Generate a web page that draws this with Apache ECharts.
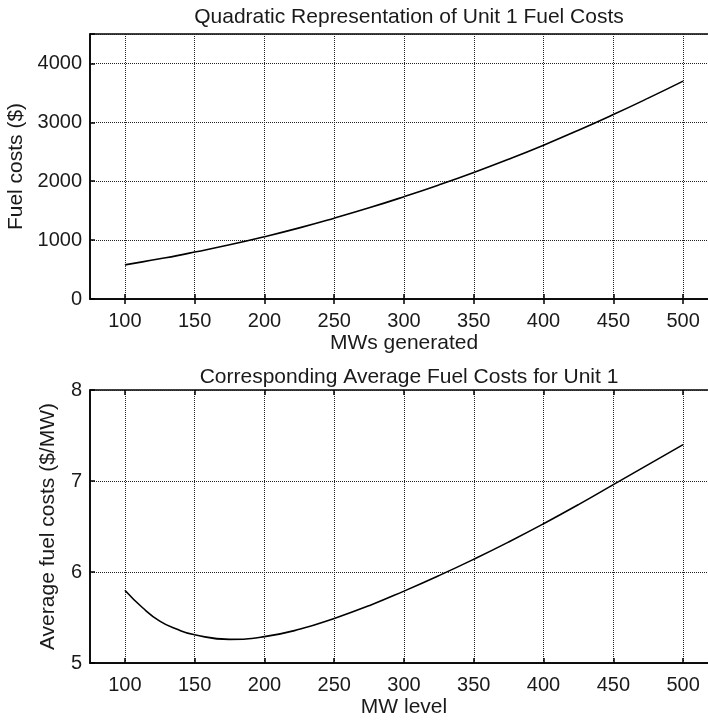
<!DOCTYPE html>
<html>
<head>
<meta charset="utf-8">
<script src="https://cdn.jsdelivr.net/npm/echarts@6/dist/echarts.min.js"></script>
<style>
html, body { margin: 0; padding: 0; background: #fff; }
#chart { width: 708px; height: 721px; }
</style>
</head>
<body>
<div id="chart"></div>
<script>
// MW levels
var mwLevels = [100, 112.5, 125, 137.5, 150, 175, 200, 225, 250, 275, 300, 325, 350, 375, 400, 425, 450, 475, 500];
// fuel costs ($), upper plot
var fuelCosts = [580, 631, 683, 737, 797, 921, 1058, 1208, 1373, 1548, 1737, 1937, 2149, 2374, 2612, 2865, 3132, 3411, 3700];
// average fuel costs ($/MW), lower plot
var avgCosts = [5.80, 5.61, 5.46, 5.37, 5.31, 5.26, 5.29, 5.37, 5.49, 5.63, 5.79, 5.96, 6.14, 6.33, 6.53, 6.74, 6.96, 7.18, 7.40];
// tick labels
var xTicks = [100, 150, 200, 250, 300, 350, 400, 450, 500];
var costTicks = [0, 1000, 2000, 3000, 4000];
var avgTicks = [5, 6, 7, 8];

var font = "'Liberation Sans', Arial, Helvetica, sans-serif";
var ink = "#1a1a1a";

function pairs(xs, ys) {
    var out = [];
    for (var i = 0; i < xs.length; i++) out.push([xs[i], ys[i]]);
    return out;
}

// x axis, bottom with labels
function xBottom(idx, name) {
    return {
        type: "value", gridIndex: idx, position: "bottom",
        min: 75, max: 525,
        name: name, nameLocation: "middle", nameGap: 34,
        nameTextStyle: { fontFamily: font, fontSize: 21, color: ink },
        axisLine: { show: true, onZero: false, lineStyle: { color: "#000", width: 1.5 } },
        axisTick: { show: true, inside: true, length: 5, customValues: xTicks, lineStyle: { color: "#000", width: 1.5 } },
        axisLabel: { customValues: xTicks, margin: 12, fontFamily: font, fontSize: 20, color: ink },
        splitLine: { show: true, lineStyle: { type: "dotted", color: "#222", width: 1 } }
    };
}
// x axis on top, only ticks
function xTop(idx) {
    return {
        type: "value", gridIndex: idx, position: "top",
        min: 75, max: 525,
        axisLine: { show: false },
        axisTick: { show: true, inside: true, length: 5, customValues: xTicks, lineStyle: { color: "#000", width: 1.5 } },
        axisLabel: { show: false },
        splitLine: { show: false }
    };
}

var option = {
    backgroundColor: "#fff",
    animation: false,
    title: [
        {
            text: "Quadratic Representation of Unit 1 Fuel Costs",
            left: 404, top: 2, textAlign: "center",
            textStyle: { fontFamily: font, fontSize: 21, fontWeight: "normal", color: ink }
        },
        {
            text: "Corresponding Average Fuel Costs for Unit 1",
            left: 404, top: 362, textAlign: "center",
            textStyle: { fontFamily: font, fontSize: 21, fontWeight: "normal", color: ink }
        }
    ],
    // plots run past the right edge of the picture (cropped box)
    grid: [
        { left: 90, width: 628, top: 34, height: 265, outerBoundsMode: "none", containLabel: false,
          show: true, borderColor: "#000", borderWidth: 1.5 },
        { left: 90, width: 628, top: 390, height: 273, outerBoundsMode: "none", containLabel: false,
          show: true, borderColor: "#000", borderWidth: 1.5 }
    ],
    xAxis: [
        xBottom(0, "MWs generated"),
        xTop(0),
        xBottom(1, "MW level"),
        xTop(1)
    ],
    yAxis: [
        {
            type: "value", gridIndex: 0,
            min: 0, max: 4500, interval: 1000,
            name: "Fuel costs ($)", nameLocation: "middle", nameGap: 60,
            nameTextStyle: { fontFamily: font, fontSize: 21, color: ink },
            axisLine: { show: true, lineStyle: { color: "#000", width: 1.5 } },
            axisTick: { show: true, inside: true, length: 5, lineStyle: { color: "#000", width: 1.5 } },
            axisLabel: {
                margin: 8, fontFamily: font, fontSize: 20, color: ink,
                formatter: function (v) { return costTicks.indexOf(v) >= 0 ? String(v) : ""; }
            },
            splitLine: { show: true, lineStyle: { type: "dotted", color: "#222", width: 1 } }
        },
        {
            type: "value", gridIndex: 1,
            min: 5, max: 8, interval: 1,
            name: "Average fuel costs ($/MW)", nameLocation: "middle", nameGap: 31,
            nameTextStyle: { fontFamily: font, fontSize: 21, color: ink },
            axisLine: { show: true, lineStyle: { color: "#000", width: 1.5 } },
            axisTick: { show: true, inside: true, length: 5, lineStyle: { color: "#000", width: 1.5 } },
            axisLabel: {
                margin: 8, fontFamily: font, fontSize: 20, color: ink,
                formatter: function (v) { return avgTicks.indexOf(v) >= 0 ? String(v) : ""; }
            },
            splitLine: { show: true, lineStyle: { type: "dotted", color: "#222", width: 1 } }
        }
    ],
    series: [
        {
            type: "line", xAxisIndex: 0, yAxisIndex: 0,
            data: pairs(mwLevels, fuelCosts),
            smooth: true, symbol: "none",
            lineStyle: { color: "#000", width: 1.6 }
        },
        {
            type: "line", xAxisIndex: 2, yAxisIndex: 1,
            data: pairs(mwLevels, avgCosts),
            smooth: true, symbol: "none",
            lineStyle: { color: "#000", width: 1.6 }
        }
    ]
};

var myChart = echarts.init(document.getElementById("chart"));
myChart.setOption(option);
</script>
</body>
</html>
